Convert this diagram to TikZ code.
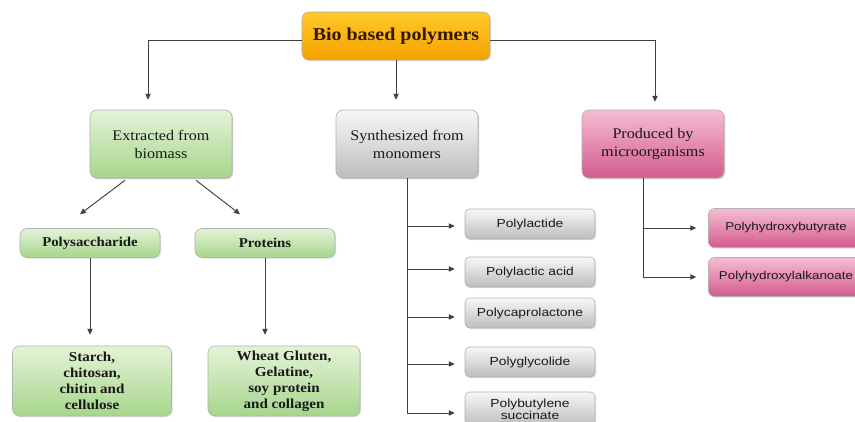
\documentclass[tikz,border=0pt]{standalone}
\usepackage{fontspec}
\setmainfont[FakeStretch=1.1]{Liberation Serif}
\setsansfont[FakeStretch=1.18]{Liberation Sans}
\usetikzlibrary{calc,arrows.meta,shadows}

\definecolor{linegray}{HTML}{404040}
\definecolor{orangetop}{HTML}{FFC928}
\definecolor{orangebot}{HTML}{F5A200}
\definecolor{greentop}{HTML}{E4F3D8}
\definecolor{greenbot}{HTML}{A6D68B}
\definecolor{graytop}{HTML}{F7F7F7}
\definecolor{graybot}{HTML}{BDBDBD}
\definecolor{pinktop}{HTML}{F5BDD3}
\definecolor{pinkbot}{HTML}{D35B8D}

\tikzset{
  box/.style={draw=black!30,line width=0.5pt,rounded corners=6pt,align=center,
    text=black!90,drop shadow={shadow xshift=1pt,shadow yshift=-1pt,opacity=0.25}},
  rootbox/.style={box,top color=orangetop,bottom color=orangebot,text=black!80!orange,
    minimum width=5.64cm,minimum height=1.44cm,font=\fontsize{15.5}{18}\selectfont\bfseries},
  mainbox/.style={box,minimum width=4.26cm,minimum height=2.04cm,
    font=\fontsize{12.5}{15.3}\selectfont},
  greenbox/.style={box,top color=greentop,bottom color=greenbot},
  graybox/.style={box,top color=graytop,bottom color=graybot,rounded corners=4pt,
    minimum width=3.9cm,minimum height=0.9cm,font=\sffamily\fontsize{10}{12}\selectfont},
  pinkbox/.style={box,top color=pinktop,bottom color=pinkbot},
  link/.style={-{Triangle[length=5pt,width=4.5pt]},line width=0.8pt,draw=linegray}
}

\begin{document}
\begin{tikzpicture}[x=0.03cm,y=-0.03cm]
    \fill[white] (0,0) rectangle (855,422);
    \useasboundingbox (0,0) rectangle (855,422);
    \clip (0,0) rectangle (855,422);

    \node[rootbox] (root) at (396,36) {Bio based polymers};

    \node[mainbox,greenbox] (ext) at (161,144) {Extracted from\\biomass};
    \node[mainbox,box,top color=graytop,bottom color=graybot] (syn) at (407,144) {Synthesized from\\monomers};
    \node[mainbox,pinkbox] (prod) at (653,144) {Produced by\\microorganisms};

    \node[greenbox,minimum width=4.2cm,minimum height=0.87cm,font=\fontsize{11.5}{14}\selectfont\bfseries] (poly) at (90,243) {Polysaccharide};
    \node[greenbox,minimum width=4.2cm,minimum height=0.87cm,font=\fontsize{11.5}{14}\selectfont\bfseries] (prot) at (265,243) {Proteins};

    \node[greenbox,minimum width=4.77cm,minimum height=2.1cm,font=\fontsize{11.7}{13.6}\selectfont\bfseries] (starch) at (92,381) {Starch,\\chitosan,\\chitin and\\cellulose};
    \node[greenbox,minimum width=4.56cm,minimum height=2.1cm,font=\fontsize{11.7}{13.6}\selectfont\bfseries] (wheat) at (284,381) {Wheat Gluten,\\Gelatine,\\soy protein\\and collagen};

    \node[graybox] (pla) at (530,224) {Polylactide};
    \node[graybox] (plac) at (530,272) {Polylactic acid};
    \node[graybox] (pcl) at (530,313) {Polycaprolactone};
    \node[graybox] (pgl) at (530,362) {Polyglycolide};
    \node[graybox,minimum height=1.02cm,font=\sffamily\fontsize{10}{10.5}\selectfont] (pbs) at (530,409) {Polybutylene\\succinate};

    \node[pinkbox,rounded corners=5pt,minimum width=4.65cm,minimum height=1.17cm,font=\sffamily\fontsize{9.7}{12}\selectfont] (phb) at (786,228) {Polyhydroxybutyrate};
    \node[pinkbox,rounded corners=5pt,minimum width=4.65cm,minimum height=1.17cm,font=\sffamily\fontsize{9.7}{12}\selectfont] (pha) at (786,277) {Polyhydroxylalkanoate};

    \draw[link] ([yshift=-0.12cm]root.west) -| ($(ext.north)+(-13,-10)$);
    \draw[link] (root.south) -- ($(root.south |- syn.north)+(0,-10)$);
    \draw[link] ([yshift=-0.12cm]root.east) -| ($(prod.north)+(2,-8)$);

    \draw[link] ($(ext.south)+(-36,2)$) -- ($(poly.north)+(-10,-14)$);
    \draw[link] ($(ext.south)+(35,2)$) -- ($(prot.north)+(-25,-14)$);

    \draw[link] (poly.south) -- ($(poly.south |- starch.north)+(0,-11)$);
    \draw[link] (prot.south) -- ($(prot.south |- wheat.north)+(0,-11)$);

    \draw[link] (syn.south) |- ($(pla.west)+(-10,2)$);
    \draw[link] (syn.south) |- ($(plac.west)+(-10,-3)$);
    \draw[link] (syn.south) |- ($(pcl.west)+(-10,4)$);
    \draw[link] (syn.south) |- ($(pgl.west)+(-10,2)$);
    \draw[link] (syn.south) |- ($(pbs.west)+(-10,4)$);

    \draw[link] ($(prod.south)+(-10,0)$) |- ($(phb.west)+(-12,0)$);
    \draw[link] ($(prod.south)+(-10,0)$) |- ($(pha.west)+(-12,0)$);
\end{tikzpicture}
\end{document}
